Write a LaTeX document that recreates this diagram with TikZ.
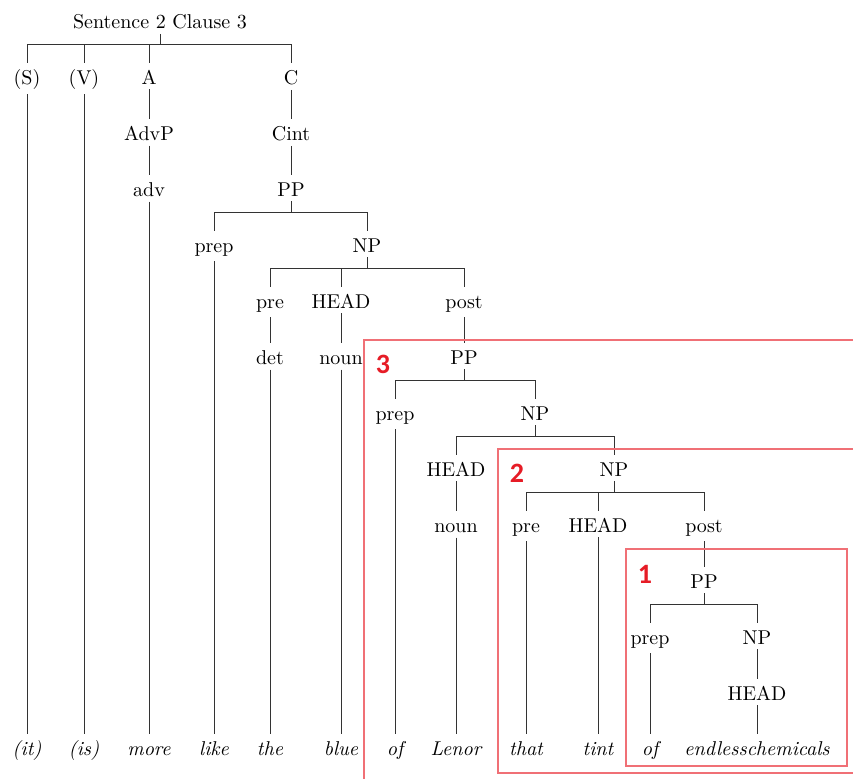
\documentclass[tikz,border=0pt]{standalone}
\usepackage{fontspec}
\newfontfamily\numfont{Carlito}
\definecolor{boxred}{RGB}{240,112,118}
\definecolor{numred}{RGB}{230,28,38}

\begin{document}
\begin{tikzpicture}[
  x=0.5pt, y=-0.5pt,
  tn/.style    = {anchor=base, inner sep=2.5pt, text height=8pt},
  wd/.style    = {tn, font=\itshape},
  edge/.style  = {line width=0.5pt, black!80},
  fence/.style = {draw=boxred, line width=0.7pt},
  num/.style   = {font=\numfont\bfseries\fontsize{14}{14}\selectfont,
                  text=numred, inner sep=0pt},
]
\useasboundingbox (0,0) rectangle (853,778);

% =========================== clause level ==================================
\node[tn] (root) at (160,28)  {Sentence 2 Clause 3};
\node[tn] (subj) at (27,84)   {(S)};
\node[tn] (verb) at (84,84)   {(V)};
\node[tn] (advl) at (149,84)  {A};
\node[tn] (cmpl) at (291,84)  {C};

\node[tn] (advp) at (149,140) {AdvP};
\node[tn] (cint) at (291,140) {Cint};
\node[tn] (adv)  at (149,196) {adv};
\node[tn] (pp1)  at (291,196) {PP};

% =========================== outer PP ======================================
\node[tn] (prep1) at (214,252) {prep};
\node[tn] (np1)   at (367,252) {NP};
\node[tn] (pre1)  at (270,308) {pre};
\node[tn] (head1) at (341,308) {HEAD};
\node[tn] (post1) at (464,308) {post};
\node[tn] (det1)  at (270,364) {det};
\node[tn] (noun1) at (341,364) {noun};
\node[tn] (pp2)   at (464,364) {PP};

% =========================== embedded PP / NP ==============================
\node[tn] (prep2) at (395,420) {prep};
\node[tn] (np2)   at (535,420) {NP};
\node[tn] (head2) at (456,476) {HEAD};
\node[tn] (np3)   at (614,476) {NP};
\node[tn] (noun2) at (456,532) {noun};
\node[tn] (pre3)  at (526,532) {pre};
\node[tn] (head3) at (598,532) {HEAD};
\node[tn] (post3) at (704,532) {post};
\node[tn] (pp3)   at (704,588) {PP};
\node[tn] (prep3) at (650,644) {prep};
\node[tn] (np4)   at (757,644) {NP};
\node[tn] (head4) at (757,700) {HEAD};

% =========================== words =========================================
\node[wd] (w1)  at (27,755)  {(it)};
\node[wd] (w2)  at (84,755)  {(is)};
\node[wd] (w3)  at (149,755) {more};
\node[wd] (w4)  at (214,755) {like};
\node[wd] (w5)  at (270,755) {the};
\node[wd] (w6)  at (341,755) {blue};
\node[wd] (w7)  at (395,755) {of};
\node[wd] (w8)  at (456,755) {Lenor};
\node[wd] (w9)  at (526,755) {that};
\node[wd] (w10) at (598,755) {tint};
\node[wd] (w11) at (650,755) {of};
\node[wd] (w12) at (757,755) {endlesschemicals};

% =========================== branching bars ================================
\coordinate (b0) at (160,44);
\coordinate (b1) at (291,212);
\coordinate (b2) at (367,268);
\coordinate (b3) at (464,380);
\coordinate (b4) at (535,436);
\coordinate (b5) at (614,492);
\coordinate (b6) at (704,604);

\draw[edge] (root) -- (b0);
\foreach \c in {subj,verb,advl,cmpl} \draw[edge] (b0) -| (\c);
\draw[edge] (pp1) -- (b1);
\foreach \c in {prep1,np1} \draw[edge] (b1) -| (\c);
\draw[edge] (np1) -- (b2);
\foreach \c in {pre1,head1,post1} \draw[edge] (b2) -| (\c);
\draw[edge] (pp2) -- (b3);
\foreach \c in {prep2,np2} \draw[edge] (b3) -| (\c);
\draw[edge] (np2) -- (b4);
\foreach \c in {head2,np3} \draw[edge] (b4) -| (\c);
\draw[edge] (np3) -- (b5);
\foreach \c in {pre3,head3,post3} \draw[edge] (b5) -| (\c);
\draw[edge] (pp3) -- (b6);
\foreach \c in {prep3,np4} \draw[edge] (b6) -| (\c);

% unary links and leaves
\foreach \a/\b in {advl/advp, advp/adv, cmpl/cint, cint/pp1, pre1/det1,
                   head1/noun1, post1/pp2, head2/noun2, post3/pp3, np4/head4}
  \draw[edge] (\a) -- (\b);
\foreach \a/\b in {subj/w1, verb/w2, adv/w3, prep1/w4, det1/w5, noun1/w6,
                   prep2/w7, noun2/w8, pre3/w9, head3/w10, prep3/w11, head4/w12}
  \draw[edge] (\a) -- (\b);

% =========================== numbered boxes ================================
\begin{scope}
  \clip (0,0) rectangle (853,778);
  \draw[fence] (364,340) rectangle (880,800);
  \draw[fence] (498,449) rectangle (880,773);
  \draw[fence] (626,549) rectangle (847,766);
\end{scope}
\node[num] (n3) at (383,364) {3};
\node[num] (n2) at (517,473) {2};
\node[num] (n1) at (645,574) {1};

\end{tikzpicture}
\end{document}
